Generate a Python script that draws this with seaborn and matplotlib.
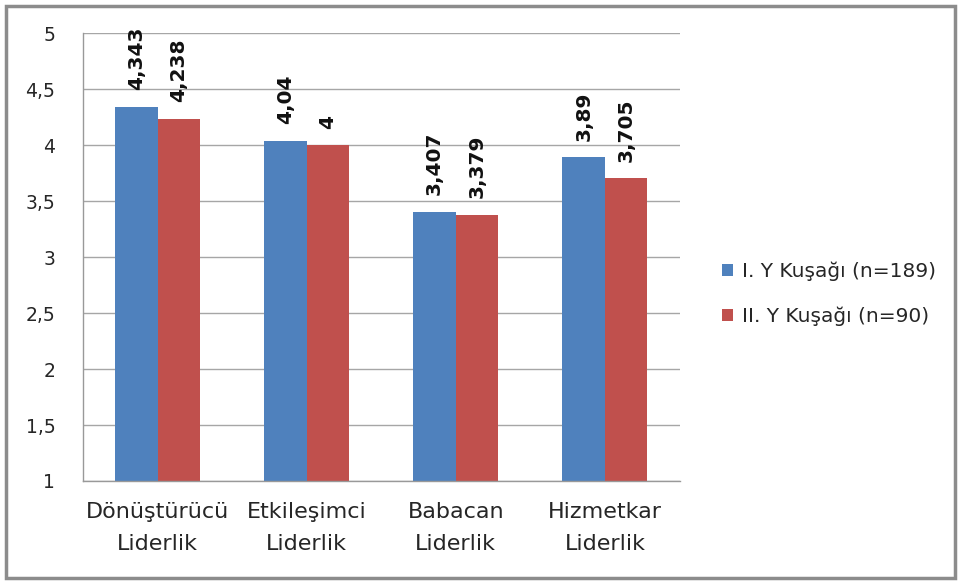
import matplotlib
matplotlib.use("Agg")
import matplotlib.pyplot as plt
import seaborn as sns
import pandas as pd
from matplotlib.patches import Rectangle
from matplotlib.ticker import FixedLocator

categories = ["Dönüştürücü\nLiderlik", "Etkileşimci\nLiderlik", "Babacan\nLiderlik", "Hizmetkar\nLiderlik"]
series_names = ["I. Y Kuşağı (n=189)", "II. Y Kuşağı (n=90)"]
values_1 = [4.343, 4.04, 3.407, 3.89]
values_2 = [4.238, 4.0, 3.379, 3.705]
label_1 = ["4,343", "4,04", "3,407", "3,89"]
label_2 = ["4,238", "4", "3,379", "3,705"]
yticks = [1, 1.5, 2, 2.5, 3, 3.5, 4, 4.5, 5]
ytick_labels = ["1", "1,5", "2", "2,5", "3", "3,5", "4", "4,5", "5"]

df = pd.DataFrame({
    "cat": categories * 2,
    "series": [series_names[0]] * 4 + [series_names[1]] * 4,
    "val": values_1 + values_2,
})

sns.set_style("white")
plt.rcParams["font.family"] = ["DejaVu Sans"]

fig = plt.figure(figsize=(9.59, 5.83), dpi=100)
ax = fig.add_axes([0.0866, 0.175, 0.622, 0.768])

palette = {series_names[0]: "#4F81BD", series_names[1]: "#C0504D"}
sns.barplot(data=df, x="cat", y="val", hue="series", palette=palette,
            width=0.57, ax=ax, saturation=1, legend=True, linewidth=0)

ax.set_ylim(1, 5)
ax.set_xlim(-0.5, 3.5)
ax.set_yticks(yticks)
ax.set_yticklabels(ytick_labels, fontsize=13.5, color="#262626")
ax.tick_params(axis="y", length=7, color="#999999", width=1, pad=13)
ax.tick_params(axis="x", which="major", length=0, labelsize=16, pad=15, labelcolor="#262626")
for t in ax.get_xticklabels():
    t.set_linespacing(1.75)
ax.xaxis.set_minor_locator(FixedLocator([-0.5, 0.5, 1.5, 2.5, 3.5]))
ax.tick_params(axis="x", which="minor", length=6, color="#999999", width=1, direction="out")
ax.set_xlabel("")
ax.set_ylabel("")
ax.grid(axis="y", color="#A6A6A6", linewidth=1)
ax.set_axisbelow(True)
for s in ["top", "right"]:
    ax.spines[s].set_visible(False)
for s in ["left", "bottom"]:
    ax.spines[s].set_color("#999999")
    ax.spines[s].set_linewidth(1)

for cont, labs in zip(ax.containers, [label_1, label_2]):
    ax.bar_label(cont, labels=labs, rotation=90, padding=12, fontsize=14.5,
                 fontweight="bold", color="#111111")

handles, labels = ax.get_legend_handles_labels()
ax.legend(handles, labels, loc="center left", bbox_to_anchor=(0.753, 0.496),
          bbox_transform=fig.transFigure, frameon=False, fontsize=14.5,
          handlelength=0.55, handleheight=0.55, handletextpad=0.45, labelspacing=1.25,
          borderaxespad=0, borderpad=0)

fig.patches.append(Rectangle((0.006, 0.008), 0.99, 0.982, transform=fig.transFigure,
                             fill=False, edgecolor="#8c8c8c", linewidth=2.5))

fig.savefig("out.png", dpi=100)
